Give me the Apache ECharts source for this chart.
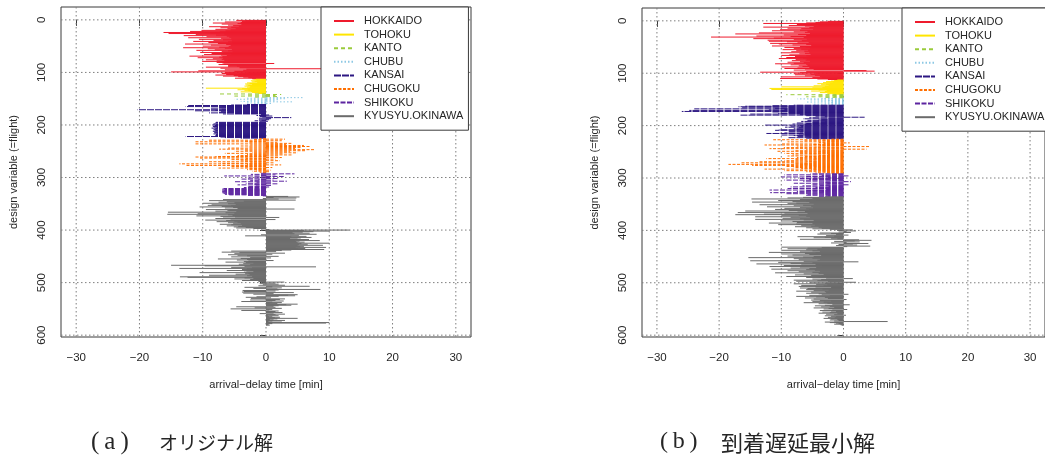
<!DOCTYPE html>
<html>
<head>
<meta charset="utf-8">
<script src="https://cdn.jsdelivr.net/npm/echarts@6/dist/echarts.min.js"></script>
<style>
  html, body { margin: 0; padding: 0; background: #ffffff; }
  #chart { width: 1045px; height: 462px; }
</style>
</head>
<body>
<div id="chart"></div>
<script>
// Regions (legend order = plotting order of the flights)
const regions = ['HOKKAIDO', 'TOHOKU', 'KANTO', 'CHUBU', 'KANSAI', 'CHUGOKU', 'SHIKOKU', 'KYUSYU.OKINAWA'];
const xTicks = [-30, -20, -10, 0, 10, 20, 30];
const yTicks = [0, 100, 200, 300, 400, 500, 600];
const xTitle = 'arrival\u2212delay time [min]';
const yTitle = 'design variable (=flight)';
const captionTagA = '(\u2009a\u2009)';
const captionTextA = 'オリジナル解';
const captionTagB = '(\u2009b\u2009)';
const captionTextB = '到着遅延最小解';

// ---- (a) original solution: arrival delay per flight [min], grouped by region ----
const hokkaidoA = [
  -4.7,-3.2,-3.8,-6.5,-4.0,-8.4,-4.5,-7.0,-3.9,-6.0,
  -5.2,-4.3,-9.0,-5.5,-7.2,-6.1,-4.8,-8.0,-5.6,-10.2,
  -6.4,-12.0,-7.3,-16.2,-8.8,-15.4,-6.6,-11.1,-7.9,-13.0,
  -6.2,-9.4,-5.8,-12.3,-7.1,-5.5,-10.6,-6.8,-8.3,-5.4,
  -11.5,-6.0,-9.1,-5.3,-7.6,-12.8,-6.3,-8.7,-5.6,-10.0,
  -5.9,-7.4,-13.1,-6.5,-9.2,-5.4,-8.1,-11.0,-6.0,-7.0,
  -5.3,-10.4,-6.7,-8.6,-5.5,-9.8,-7.1,-6.2,-12.1,-6.9,
  -7.4,-10.8,-6.8,-8.4,-7.0,-9.5,-6.6,-7.8,-10.1,-7.2,
  -7.8,-6.9,1.3,-6.7,-7.5,-5.8,-6.0,-4.6,-6.0,-9.5,
  -4.2,-7.2,9.3,-3.1,-6.5,-3.6,-10.7,-5.0,-15.0,-6.5,
  -3.0,-7.0,-4.2,-6.3,-8.0,-5.1,-6.8,-4.4,-3.6,-2.8,-4.9,-2.2
];
const tohokuA = [
  -1.6,-2.0,-1.5,-2.4,-1.8,-2.2,-1.4,-3.0,-2.6,-3.3,
  -2.2,-3.1,-2.8,-3.4,-2.5,-3.0,-2.6,-9.5,-3.8,-2.9,
  -4.5,-3.4,-2.8,-2.4,-4.0,-2.2,-1.8,-1.2
];
const kantoA = [-7.5, 2.4, -3.0, 1.5, -5.0, 2.0, -2.2];
const chubuA = [5.8,-3.0,3.2,-5.0,2.1,-2.5,1.6,-4.0,4.2,-1.5,-3.2,1.0,-2.0];
const kansaiA = [
  -3.0,-5.5,-12.3,-7.0,-12.7,-6.5,-7.5,-8.8,-6.2,-7.0,
  -20.3,-8.0,-11.3,-7.1,-6.0,-7.5,-9.0,-5.0,-6.8,-0.8,
  0.5,-1.5,1.0,-1.0,-0.6,4.0,-1.3,0.8,-1.2,0.5,
  -0.7,-1.8,0.3,-1.0,-7.9,-8.0,-7.6,-8.3,-7.9,-8.5,
  -8.1,-7.7,-8.4,-8.2,-7.8,-8.6,-8.0,-7.5,-8.3,-8.1,
  -7.9,-8.4,-7.6,-8.2,-8.0,-7.7,-8.3,-7.9,-7.4,-8.0,
  -7.6,-12.7,-7.2,-6.5,-4.0
];
const chugokuA = [
  -1.0,3.0,-2.0,-9.2,2.5,-3.5,-11.3,1.8,-2.8,4.0,
  -11.3,3.2,-2.5,6.0,-4.0,7.0,-2.8,5.5,-6.0,4.6,
  -7.4,7.6,-3.5,6.3,-5.0,3.8,-2.2,5.0,-6.5,2.6,
  -3.0,4.2,-4.5,1.9,-8.0,-11.3,2.5,-10.5,-3.2,1.5,
  -5.5,-4.0,2.2,-3.6,-9.0,-2.5,1.2,-7.2,-13.7,-3.0,
  2.4,-12.7,-4.2,-5.5,-3.5,1.0,-7.5,-2.6,-1.8,-3.0,
  0.8,-1.5,-2.2,0.5,-1.0,-0.6
];
const shikokuA = [
  -1.0,4.5,-2.4,1.5,-0.8,-6.6,2.8,-1.8,0.6,-3.0,
  2.0,-4.0,-1.2,1.2,-2.5,3.3,-5.0,-1.5,0.8,-3.2,
  1.8,-2.0,-4.5,1.0,-1.6,-2.8,0.5,-3.5,-1.0,-6.7,
  -6.9,-6.5,-7.2,-6.6,-6.8,-7.0,-6.4,-6.9,-6.7,-6.2,
  -6.5,-5.8,-3.0,-0.5
];
const kyusyuA = [
  3.5,5.3,1.2,4.8,-0.5,2.0,-6.8,4.7,-9.0,-3.5,
  -6.2,-7.5,-5.0,-10.0,-6.0,-4.8,-8.6,-9.2,-5.5,-7.0,
  -10.5,-5.2,-6.5,-4.5,4.5,-9.5,-5.8,-6.1,-8.0,-4.7,
  -15.5,-6.4,-5.0,-10.8,-15.6,-6.0,-5.3,-11.0,-7.2,-4.9,
  2.1,-6.8,-8.0,-5.6,1.5,-9.6,-6.3,-5.0,-7.8,-4.5,
  -6.0,-5.2,-4.0,-7.3,-5.5,-3.8,-6.2,-4.4,-5.1,-3.2,
  -4.7,-2.0,-0.8,0.5,13.2,6.0,10.0,7.5,5.8,4.2,
  6.9,4.5,8.0,-0.8,5.2,-3.3,6.4,4.0,7.2,5.5,
  3.8,5.0,6.8,4.6,8.5,5.3,4.8,6.1,5.0,10.0,
  5.6,6.6,5.2,9.0,5.0,6.0,5.4,9.5,4.7,6.2,
  5.1,9.2,4.0,2.5,-5.5,1.6,-7.0,-4.2,3.0,-5.0,
  1.0,-6.0,-4.5,-3.0,2.0,-5.5,-2.5,0.8,-4.0,-7.6,
  -3.0,-4.6,1.2,-2.8,-3.5,-6.4,-3.2,-2.0,-3.6,-4.3,
  -2.5,-15.0,-9.7,-3.4,7.9,-5.5,-2.2,-13.7,-3.0,-3.8,
  -2.4,-6.2,-3.1,-2.0,-3.5,-10.5,-2.8,-3.3,-4.8,-2.6,
  -9.0,-3.0,-2.2,-13.6,-12.4,-3.4,-2.0,-5.0,-2.5,-1.6,
  -3.8,-0.8,-1.2,2.9,-0.5,1.5,-1.0,2.0,-0.5,3.0,
  -1.2,6.9,1.0,-3.4,2.5,-2.0,1.8,8.6,2.0,-3.7,
  1.5,-3.5,-3.8,4.4,-3.6,1.2,-2.0,5.0,3.5,4.6,
  2.0,-1.5,-3.2,0.8,-2.4,3.0,2.2,-2.5,1.5,2.8,
  -3.9,1.0,2.5,0.6,1.8,5.0,3.2,4.0,2.0,1.2,
  -4.7,1.5,-1.8,2.5,-5.6,1.0,0.5,-3.9,2.0,1.5,
  0.8,2.6,1.2,-1.0,3.0,1.5,0.3,2.0,1.0,0.5,
  2.2,1.4,5.0,1.8,0.6,1.2,3.0,1.0,0.4,2.5,
  10.0,9.5,1.0,0.5,0.3,0.6
];

// ---- (b) minimum arrival-delay solution ----
const hokkaidoB = [
  -2.5,-3.8,-4.5,-6.0,-12.9,-5.2,-7.5,-3.9,-8.8,-6.2,
  -4.8,-12.9,-5.5,-9.0,-6.8,-4.9,-10.2,-7.0,-11.5,-5.8,
  -8.0,-6.2,-13.6,-5.4,-17.4,-7.3,-9.6,-6.0,-14.0,-8.5,
  -21.3,-6.4,-11.2,-14.5,-5.9,-8.0,-12.2,-6.7,-12.0,-9.1,
  -5.6,-7.4,-11.8,-10.4,-6.0,-8.2,-5.2,-11.5,-7.0,-6.1,
  -9.5,-5.4,-8.0,-6.8,-9.8,-5.7,-7.6,-6.3,-8.4,-5.5,
  -10.0,-6.2,-7.1,-5.3,-8.7,-10.0,-6.0,-7.8,-5.6,-9.2,
  -6.5,-10.4,-5.9,-7.7,-6.1,-8.3,-5.4,-7.0,-9.0,-6.4,
  -8.0,-11.0,-6.0,-8.5,-5.8,-7.2,-6.6,-10.0,-5.5,-7.4,
  -9.5,-6.2,-4.8,-8.0,3.7,5.0,-6.0,-13.4,-7.0,-4.5,
  -8.0,-5.3,-7.8,-4.6,-6.2,-3.8,-10.0,-5.0,-3.5,-10.2,-4.2,-2.5
];
const tohokuB = [
  -1.0,-1.5,-2.0,-2.8,-1.7,-3.3,-2.2,-4.2,-2.8,-3.6,
  -2.4,-4.8,-3.0,-10.0,-3.4,-5.0,-11.9,-3.2,-11.6,-4.0,
  -2.7,-5.2,-3.0,-2.2,-3.8,-1.8,-2.6,-1.5
];
const kantoB = [-9.2, -2.0, -4.5, -1.5, -6.0, -3.0, -1.2];
const chubuB = [-3.5,-7.4,-1.5,-5.5,-2.5,-4.0,-1.8,-6.2,-2.2,-3.0,-1.5,-4.8,-2.0];
const kansaiB = [
  -8.0,-11.5,-15.8,-16.9,-9.0,-16.3,-11.0,-24.0,-9.5,-12.0,
  -24.8,-10.2,-26.0,-11.5,-9.0,-8.0,-10.5,-15.0,-7.0,-16.6,
  -6.0,-4.5,-3.0,3.4,-5.5,-2.5,-6.5,-4.0,-3.5,-5.8,
  -4.2,-6.8,-3.0,-5.0,-7.5,-6.0,-8.2,-6.5,-12.6,-7.0,
  -8.5,-6.8,-9.4,-7.2,-6.5,-8.0,-7.5,-10.4,-11.0,-6.8,
  -8.8,-7.0,-6.4,-9.5,-12.4,-7.2,-6.5,-10.0,-8.0,-6.0,
  -7.4,-5.5,-9.0,-6.0,-5.0
];
const chugokuB = [
  -2.0,-11.3,-3.5,-6.5,-2.8,-9.0,-4.0,1.0,-3.2,-10.0,
  -5.0,-12.7,-3.8,-7.5,4.2,-4.5,-9.6,-3.0,-11.9,3.7,
  -6.0,-3.5,-8.0,-10.8,-4.2,-7.0,-3.6,-9.5,-5.5,-2.5,
  -8.2,-4.0,-9.0,-6.2,-3.8,-7.5,-4.6,-12.4,-5.0,-7.8,
  -4.2,-9.5,-6.0,-13.5,-5.0,-16.4,-8.0,-6.5,-18.5,-7.0,
  -14.7,-5.8,-9.2,-4.5,-8.0,-3.9,-6.8,-12.7,-5.2,-4.0,
  -9.5,-3.5,-6.0,-2.8,-4.5,-2.0
];
const shikokuB = [
  -5.3,-2.0,-9.5,-3.5,0.8,-6.0,-10.0,-2.5,-4.8,-7.0,
  -3.0,-5.5,-9.5,-2.2,-6.5,1.2,-4.0,-3.2,-8.0,-2.6,
  -5.0,1.0,-3.8,-6.6,-2.4,-8.5,-4.5,-3.0,-9.0,-5.2,
  -2.8,-11.9,-6.0,-3.5,-7.5,-4.2,-11.8,-3.0,-9.2,-5.8,
  -3.2,-6.0,-2.5,-4.0
];
const kyusyuB = [
  -3.0,-6.5,-9.0,-5.0,-14.8,-7.0,-4.5,-10.5,-6.0,-8.2,
  -14.7,-5.5,-7.6,-9.0,-4.8,-13.5,-6.5,-8.0,-5.2,-12.3,
  -7.0,-4.9,-9.5,-6.0,-11.0,-5.5,-8.8,-15.8,-6.2,-7.4,
  -17.0,-9.5,-5.8,-12.8,-17.4,-7.2,-10.0,-6.0,-14.2,-8.5,
  -5.4,-9.8,-7.0,-14.2,-6.4,-4.8,-10.0,-8.2,-6.0,-7.5,
  -12.0,-5.0,-7.6,-10.5,-4.6,-6.8,-5.2,-7.8,-4.0,-6.0,
  -3.5,-5.0,-2.2,1.5,-1.0,2.0,0.5,-0.8,1.2,-3.8,
  -2.0,-4.2,-1.2,0.8,-2.8,-1.5,-7.4,-3.0,-4.8,-2.0,
  -1.0,-7.0,2.5,4.5,1.8,-1.5,2.6,0.5,-2.0,4.0,
  1.5,-0.8,2.2,-1.2,4.3,0.6,-10.0,-3.5,-5.8,-9.0,
  -4.2,-6.0,-10.0,-5.0,-3.8,-7.0,-12.0,-4.5,-6.2,-10.0,
  -5.5,-8.2,-3.6,-9.0,-4.8,-6.5,-15.3,-5.0,-8.0,-3.8,
  -7.2,-4.2,-15.0,-6.4,2.4,-10.5,-5.0,-8.5,-14.0,-4.5,
  -6.8,-9.6,-3.5,-11.9,-7.0,-4.4,-8.5,-5.5,-11.6,-6.0,
  -4.6,-9.0,-3.8,-7.2,-5.0,-11.0,-4.0,-6.4,-3.2,-7.8,
  -5.2,-3.5,-9.2,-4.0,-6.0,-2.8,1.5,-5.0,-3.6,-8.0,
  -4.2,-7.6,-2.5,2.0,-5.5,-3.0,-8.0,-4.4,-2.6,-6.8,
  -3.2,-7.2,-4.5,-2.0,-7.0,-5.8,-3.4,-6.0,-2.4,-4.8,
  -7.6,-3.0,-5.2,-2.8,-6.0,-4.0,0.8,-3.5,-5.5,-2.2,
  -7.6,-4.4,-3.0,-6.2,-2.5,-4.8,0.5,-5.2,-3.8,-2.0,
  -5.0,-3.2,-6.4,-2.6,-4.0,-1.8,1.0,-3.0,-4.6,-2.2,
  -3.6,-1.5,-4.8,-2.4,-3.2,0.6,-1.8,-3.8,-2.0,-1.2,
  -3.4,-2.2,-4.0,-1.0,-2.8,-1.5,0.4,-3.0,-2.0,-1.2,
  -2.5,-1.4,-3.2,-2.0,-1.0,-2.2,-0.8,-1.5,7.1,-3.0,
  -2.2,-1.2,-0.8,-1.5,-0.5,-0.3
];

const panelA = [hokkaidoA, tohokuA, kantoA, chubuA, kansaiA, chugokuA, shikokuA, kyusyuA];
const panelB = [hokkaidoB, tohokuB, kantoB, chubuB, kansaiB, chugokuB, shikokuB, kyusyuB];

// ---- styling ----
const regionStyle = [
  { color: '#ee1b2d', dash: null },        // HOKKAIDO
  { color: '#ffe500', dash: null },        // TOHOKU
  { color: '#9acb3c', dash: [4, 3] },      // KANTO
  { color: '#8cc8e4', dash: [1.5, 2] },    // CHUBU
  { color: '#2c1782', dash: [7, 1] },      // KANSAI
  { color: '#ff6f00', dash: [3, 1.5] },    // CHUGOKU
  { color: '#5c24a0', dash: [5, 1.5] },    // SHIKOKU
  { color: '#6b6b6b', dash: null }         // KYUSYU.OKINAWA
];
const FONT = 'Liberation Sans, Arial, sans-serif';
const SERIF = 'Liberation Serif, DejaVu Serif, serif';
const TEXT = '#262626';
const gridBoxes = [
  { left: 61, top: 7, width: 410, height: 330 },
  { left: 642, top: 8, width: 410, height: 329 }
];
const legendLeft = [321, 902];

const minus = v => String(v).replace('-', '\u2212');

const chart = echarts.init(document.getElementById('chart'), null, { renderer: 'canvas' });

const series = [];
const grids = [], xAxes = [], yAxes = [], legends = [];

[panelA, panelB].forEach((panel, g) => {
  grids.push(Object.assign({ show: true, borderColor: '#3a3a3a', borderWidth: 1, backgroundColor: 'transparent' }, gridBoxes[g]));
  xAxes.push({
    gridIndex: g, type: 'value', min: -32.4, max: 32.4,
    name: xTitle, nameLocation: 'middle', nameGap: 42,
    nameTextStyle: { fontFamily: FONT, fontSize: 11, color: TEXT },
    axisLine: { show: false },
    axisTick: { show: true, inside: false, length: 6, customValues: xTicks, lineStyle: { color: '#3a3a3a' } },
    axisLabel: { customValues: xTicks, margin: 15, fontFamily: FONT, fontSize: 11.5, color: TEXT, formatter: minus },
    splitLine: { show: false }
  });
  yAxes.push({
    gridIndex: g, type: 'value', inverse: true, min: -24.5, max: 603.5,
    name: yTitle, nameLocation: 'middle', nameGap: 42, nameRotate: 90,
    nameTextStyle: { fontFamily: FONT, fontSize: 11, color: TEXT },
    axisLine: { show: false },
    axisTick: { show: true, inside: false, length: 6, customValues: yTicks, lineStyle: { color: '#3a3a3a' } },
    axisLabel: { customValues: yTicks, rotate: 90, margin: 13, fontFamily: FONT, fontSize: 11.5, color: TEXT },
    splitLine: { show: false }
  });

  // dotted reference grid at the tick positions
  series.push({
    type: 'custom', xAxisIndex: g, yAxisIndex: g, silent: true, z: 1, clip: true,
    renderItem: function (params, api) {
      const cs = params.coordSys;
      const vertical = api.value(2) === 0;
      const p = api.coord([api.value(0), api.value(1)]);
      const shape = vertical
        ? { x1: p[0], y1: cs.y, x2: p[0], y2: cs.y + cs.height }
        : { x1: cs.x, y1: p[1], x2: cs.x + cs.width, y2: p[1] };
      return { type: 'line', shape: shape, style: { stroke: '#7e7e7e', lineWidth: 1, lineDash: [1.5, 2.5] } };
    },
    encode: { x: 0, y: 1 },
    data: xTicks.map(v => [v, 0, 0]).concat(yTicks.map(v => [0, v, 1]))
  });

  // legend swatches (line samples in each region's style)
  regions.forEach((name, r) => {
    series.push({
      type: 'line', name: name, xAxisIndex: g, yAxisIndex: g, data: [], symbol: 'none',
      lineStyle: { color: regionStyle[r].color, width: 1.2, type: regionStyle[r].dash || 'solid' },
      itemStyle: { color: regionStyle[r].color }
    });
  });

  // one horizontal line per flight, from 0 to its arrival delay
  let flight = 1;
  regions.forEach((name, r) => {
    const st = regionStyle[r];
    const data = panel[r].map(v => [flight++, v]);
    series.push({
      type: 'custom', name: name, xAxisIndex: g, yAxisIndex: g, silent: true, z: 2, clip: true,
      encode: { x: 1, y: 0 },
      data: data,
      renderItem: function (params, api) {
        const y = api.value(0);
        const a = api.coord([0, y]);
        const b = api.coord([api.value(1), y]);
        return {
          type: 'line',
          shape: { x1: a[0], y1: a[1], x2: b[0], y2: b[1] },
          style: { stroke: st.color, lineWidth: 1, lineDash: st.dash }
        };
      }
    });
  });

  legends.push({
    left: legendLeft[g], top: g === 0 ? 7 : 8, orient: 'vertical', data: regions,
    itemWidth: 20, itemHeight: 10, itemGap: 1.6,
    padding: [8, 5, 8, 12],
    borderColor: '#3a3a3a', borderWidth: 1, borderRadius: 0, backgroundColor: '#ffffff',
    selectedMode: false, z: 10,
    itemStyle: { opacity: 0 },
    textStyle: { fontFamily: FONT, fontSize: 11, color: TEXT, lineHeight: 12, padding: [0, 0, 0, 5] }
  });
});

chart.setOption({
  animation: false,
  backgroundColor: '#ffffff',
  title: [
    { text: captionTagA, left: 86, top: 425, textStyle: { fontFamily: SERIF, fontSize: 25, fontWeight: 'normal', color: TEXT } },
    { text: captionTextA, left: 154, top: 428, textStyle: { fontFamily: 'Noto Sans CJK JP', fontSize: 19, fontWeight: 'normal', color: TEXT } },
    { text: captionTagB, left: 655, top: 425, textStyle: { fontFamily: SERIF, fontSize: 24, fontWeight: 'normal', color: TEXT } },
    { text: captionTextB, left: 716, top: 427, textStyle: { fontFamily: 'Noto Sans CJK JP', fontSize: 22, fontWeight: 'normal', color: TEXT } }
  ],
  grid: grids,
  xAxis: xAxes,
  yAxis: yAxes,
  legend: legends,
  series: series
});
</script>
</body>
</html>
